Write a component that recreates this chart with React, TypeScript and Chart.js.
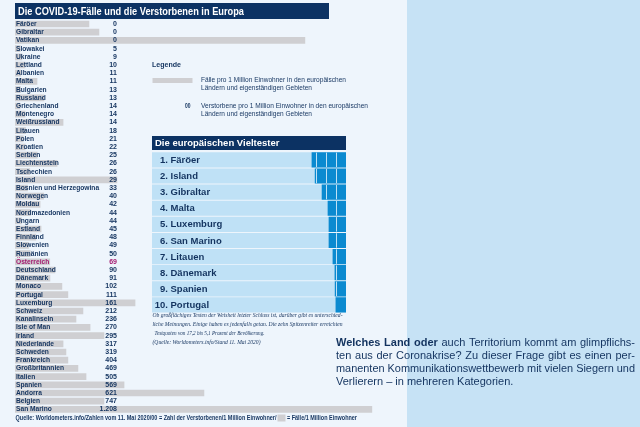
import React, { useEffect, useRef } from "react";
import { Chart, registerables } from "chart.js";

Chart.register(...registerables);

// ---------- DATA ----------
const countries = [
  "Färöer", "Gibraltar", "Vatikan", "Slowakei", "Ukraine", "Lettland", "Albanien", "Malta",
  "Bulgarien", "Russland", "Griechenland", "Montenegro", "Weißrussland", "Litauen", "Polen",
  "Kroatien", "Serbien", "Liechtenstein", "Tschechien", "Island", "Bosnien und Herzegowina",
  "Norwegen", "Moldau", "Nordmazedonien", "Ungarn", "Estland", "Finnland", "Slowenien",
  "Rumänien", "Österreich", "Deutschland", "Dänemark", "Monaco", "Portugal", "Luxemburg",
  "Schweiz", "Kanalinseln", "Isle of Man", "Irland", "Niederlande", "Schweden", "Frankreich",
  "Großbritannien", "Italien", "Spanien", "Andorra", "Belgien", "San Marino",
];

// cases per 1 million inhabitants (grey bars)
const casesPerMillion = [
  3830, 4350, 15020, 270, 360, 520, 300, 1140,
  280, 1500, 260, 520, 2490, 550, 420,
  530, 1150, 2180, 765, 5280, 650,
  1480, 1300, 800, 340, 1350, 1080, 700,
  790, 1800, 2070, 1810, 2430, 2740, 6220,
  3520, 3160, 3890, 4610, 2490, 2640, 2740,
  3260, 3680, 5650, 9790, 4610, 18490,
];

// deaths per 1 million inhabitants (numbers)
const deathsPerMillion = [
  0, 0, 0, 5, 9, 10, 11, 11,
  13, 13, 14, 14, 14, 18, 21,
  22, 25, 26, 26, 29, 33,
  40, 42, 44, 44, 45, 48, 49,
  50, 69, 90, 91, 102, 111, 161,
  212, 236, 270, 295, 317, 319, 404,
  469, 505, 569, 621, 747, 1208,
];

const highlightCountry = "Österreich";

// "Die europäischen Vieltester" – tests in % of population
const testers = [
  "Färöer", "Island", "Gibraltar", "Malta", "Luxemburg",
  "San Marino", "Litauen", "Dänemark", "Spanien", "Portugal",
];
const testRates = [17.2, 15.6, 12.1, 9.1, 8.6, 8.6, 6.6, 5.6, 5.5, 5.1];

const casesAxisMax = 20000;
const testAxisMax = 98;

// ---------- STYLE ----------
const BG = "#eef5fc";
const PANEL = "#c6e2f5";
const NAVY = "#0c3263";
const TEXT = "#13335f";
const GREY = "#cfcfd2";
const MAGENTA = "#a3196f";
const LIGHTBLUE = "#bfe1f6";
const DARKBLUE = "#0b8ad0";
const FONT = '"Liberation Sans", Arial, sans-serif';
const SERIF = '"Liberation Serif", "DejaVu Serif", serif';

function fmt(n: number): string {
  if (n >= 1000) return Math.floor(n / 1000) + "." + String(n % 1000).padStart(3, "0");
  return String(n);
}

function fitText(ctx: CanvasRenderingContext2D, text: string, x: number, y: number, w: number, font: string, color: string, align: "left" | "right" = "left") {
  ctx.save();
  ctx.font = font;
  ctx.fillStyle = color;
  ctx.textBaseline = "middle";
  ctx.textAlign = "left";
  const m = ctx.measureText(text).width;
  const s = w / m;
  const x0 = align === "right" ? x - w : x;
  ctx.translate(x0, y);
  ctx.scale(s, 1);
  ctx.fillText(text, 0, 0);
  ctx.restore();
}

type Word = { t: string; b: boolean };

function drawParagraphLine(ctx: CanvasRenderingContext2D, words: Word[], x: number, y: number, width: number, justify: boolean, size: number) {
  ctx.save();
  ctx.fillStyle = TEXT;
  ctx.textBaseline = "middle";
  ctx.textAlign = "left";
  const widths = words.map((w) => {
    ctx.font = `${w.b ? "bold " : ""}${size}px ${FONT}`;
    return ctx.measureText(w.t).width;
  });
  ctx.font = `${size}px ${FONT}`;
  const space = ctx.measureText(" ").width;
  const total = widths.reduce((a, b) => a + b, 0);
  let gap = space;
  let scale = 1;
  const natural = total + space * (words.length - 1);
  if (justify) {
    if (natural > width) {
      scale = width / natural;
    } else {
      gap = (width - total) / (words.length - 1);
    }
  }
  ctx.translate(x, y);
  ctx.scale(scale, 1);
  let cx = 0;
  words.forEach((w, i) => {
    ctx.font = `${w.b ? "bold " : ""}${size}px ${FONT}`;
    ctx.fillText(w.t, cx, 0);
    cx += widths[i] + gap;
  });
  ctx.restore();
}

function wordsOf(s: string, b = false): Word[] {
  return s.split(" ").filter((x) => x.length).map((t) => ({ t, b }));
}

const paragraph: { words: Word[]; justify: boolean }[] = [
  { words: [...wordsOf("Welches Land oder", true), ...wordsOf("auch Territorium kommt am glimpflichs-")], justify: true },
  { words: wordsOf("ten aus der Coronakrise? Zu dieser Frage gibt es einen per-"), justify: true },
  { words: wordsOf("manenten Kommunikationswettbewerb mit vielen Siegern und"), justify: true },
  { words: wordsOf("Verlierern – in mehreren Kategorien."), justify: false },
];

export default function App() {
  const mainRef = useRef<HTMLCanvasElement>(null);
  const testRef = useRef<HTMLCanvasElement>(null);

  useEffect(() => {
    document.body.style.margin = "0";
    if (!mainRef.current || !testRef.current) return;

    const bgPlugin = {
      id: "bgPlugin",
      beforeDraw(chart: any) {
        const ctx = chart.ctx as CanvasRenderingContext2D;
        ctx.save();
        ctx.fillStyle = BG;
        ctx.fillRect(0, 0, 640, 427);
        ctx.fillStyle = PANEL;
        ctx.fillRect(407, 0, 233, 427);
        ctx.restore();
      },
      afterDatasetsDraw(chart: any) {
        const ctx = chart.ctx as CanvasRenderingContext2D;
        const yScale = chart.scales.y;
        const left = chart.chartArea.left;
        ctx.save();
        ctx.textBaseline = "middle";
        countries.forEach((c, i) => {
          const y = yScale.getPixelForValue(i);
          const col = c === highlightCountry ? MAGENTA : TEXT;
          ctx.fillStyle = col;
          ctx.font = `bold 7px ${FONT}`;
          ctx.save();
          ctx.translate(left + 1, y);
          ctx.scale(0.95, 1);
          ctx.textAlign = "left";
          ctx.fillText(c, 0, 0);
          ctx.restore();
          ctx.textAlign = "right";
          ctx.fillText(fmt(deathsPerMillion[i]), 117, y);
        });
        ctx.restore();
      },
      afterDraw(chart: any) {
        const ctx = chart.ctx as CanvasRenderingContext2D;
        // title bar
        ctx.save();
        ctx.fillStyle = NAVY;
        ctx.fillRect(15, 3, 314, 16);
        ctx.restore();
        fitText(ctx, "Die COVID-19-Fälle und die Verstorbenen in Europa", 18, 11.5, 226, `bold 11px ${FONT}`, "#ffffff");

        // legend
        fitText(ctx, "Legende", 152, 65.5, 29, `bold 6.5px ${FONT}`, TEXT);
        ctx.save();
        ctx.fillStyle = GREY;
        ctx.fillRect(152.5, 78, 40, 5);
        ctx.restore();
        fitText(ctx, "Fälle pro 1 Million Einwohner in den europäischen", 201, 80.5, 145, `6.5px ${FONT}`, TEXT);
        fitText(ctx, "Ländern und eigenständigen Gebieten", 201, 88.5, 111, `6.5px ${FONT}`, TEXT);
        fitText(ctx, "00", 185, 106.5, 5.5, `bold 6.5px ${FONT}`, TEXT);
        fitText(ctx, "Verstorbene pro 1 Million Einwohner in den europäischen", 201, 106.5, 167, `6.5px ${FONT}`, TEXT);
        fitText(ctx, "Ländern und eigenständigen Gebieten", 201, 114.5, 111, `6.5px ${FONT}`, TEXT);

        // source line
        fitText(ctx, "Quelle: Worldometers.info/Zahlen vom 11. Mai 2020/00 = Zahl der Verstorbenen/1 Million Einwohner/", 15.5, 418, 261, `bold 7px ${FONT}`, TEXT);
        ctx.save();
        ctx.fillStyle = GREY;
        ctx.fillRect(277.5, 414.5, 8, 7);
        ctx.restore();
        fitText(ctx, "= Fälle/1 Million Einwohner", 287, 418, 70, `bold 7px ${FONT}`, TEXT);

        // paragraph
        const ys = [343, 356, 369, 382];
        paragraph.forEach((line, i) => {
          drawParagraphLine(ctx, line.words, 336, ys[i], 299, line.justify, 11);
        });
      },
    };

    const mainChart = new Chart(mainRef.current, {
      type: "bar",
      data: {
        labels: countries,
        datasets: [
          {
            data: casesPerMillion,
            backgroundColor: GREY,
            borderWidth: 0,
            barThickness: 6,
          },
        ],
      },
      options: {
        indexAxis: "y",
        responsive: false,
        animation: false,
        devicePixelRatio: 1,
        layout: { padding: { left: 15, right: 239, top: 19.9, bottom: 13.5 } },
        scales: {
          x: { display: false, min: 0, max: casesAxisMax },
          y: { display: false },
        },
        plugins: { legend: { display: false }, tooltip: { enabled: false } },
        events: [],
      },
      plugins: [bgPlugin],
    } as any);

    const testPlugin = {
      id: "testPlugin",
      afterDatasetsDraw(chart: any) {
        const ctx = chart.ctx as CanvasRenderingContext2D;
        const xScale = chart.scales.x;
        const yScale = chart.scales.y;
        const area = chart.chartArea;
        // grid lines inside dark bars
        const meta = chart.getDatasetMeta(0);
        ctx.save();
        ctx.strokeStyle = LIGHTBLUE;
        ctx.lineWidth = 1;
        meta.data.forEach((bar: any) => {
          const p = bar.getProps(["x", "y", "base", "height"], true);
          const x1 = Math.min(p.x, p.base);
          const x2 = Math.max(p.x, p.base);
          for (let v = 5; v < testAxisMax; v += 5) {
            const gx = Math.round(xScale.getPixelForValue(v)) + 0.5;
            if (gx > x1 + 1 && gx < x2) {
              ctx.beginPath();
              ctx.moveTo(gx, p.y - p.height / 2);
              ctx.lineTo(gx, p.y + p.height / 2);
              ctx.stroke();
            }
          }
        });
        ctx.restore();

        // labels
        ctx.save();
        ctx.fillStyle = TEXT;
        ctx.textBaseline = "middle";
        ctx.font = `bold 9.5px ${FONT}`;
        const numEnd = 168;
        testers.forEach((t, i) => {
          const y = yScale.getPixelForValue(i) + 0.5;
          ctx.textAlign = "right";
          ctx.fillText(`${i + 1}.`, numEnd, y);
          ctx.textAlign = "left";
          ctx.fillText(t, numEnd + 2.5, y);
        });
        ctx.restore();

        // header
        ctx.save();
        ctx.fillStyle = NAVY;
        ctx.fillRect(area.left, 136, area.right - area.left, 14);
        ctx.fillStyle = "#ffffff";
        ctx.textBaseline = "middle";
        ctx.textAlign = "left";
        ctx.font = `bold 9.5px ${FONT}`;
        ctx.fillText("Die europäischen Vieltester", area.left + 3, 143.5);
        ctx.restore();

        // note
        const f = `italic 6px ${SERIF}`;
        fitText(ctx, "Ob großflächiges Testen der Weisheit letzter Schluss ist, darüber gibt es unterschied-", 152.5, 315, 190, f, TEXT);
        fitText(ctx, "liche Meinungen. Einige haben es jedenfalls getan. Die zehn Spitzenreiter erreichten", 152.5, 324, 190, f, TEXT);
        fitText(ctx, "Testquoten von 17,2 bis 5,1 Prozent der Bevölkerung.", 154.5, 333, 110, f, TEXT);
        fitText(ctx, "(Quelle: Worldometers.info/Stand 11. Mai 2020)", 152.5, 342, 108, f, TEXT);
      },
    };

    const testChart = new Chart(testRef.current, {
      type: "bar",
      data: {
        labels: testers,
        datasets: [
          {
            data: testRates,
            backgroundColor: DARKBLUE,
            borderWidth: 0,
            barThickness: 14.5,
            grouped: false,
          },
          {
            data: testers.map(() => testAxisMax),
            backgroundColor: LIGHTBLUE,
            borderWidth: 0,
            barThickness: 14.5,
            grouped: false,
          },
        ],
      },
      options: {
        indexAxis: "y",
        responsive: false,
        animation: false,
        devicePixelRatio: 1,
        layout: { padding: { left: 152, right: 294, top: 151.8, bottom: 114 } },
        scales: {
          x: { display: false, min: 0, max: testAxisMax, reverse: true },
          y: { display: false },
        },
        plugins: { legend: { display: false }, tooltip: { enabled: false } },
        events: [],
      },
      plugins: [testPlugin],
    } as any);

    return () => {
      mainChart.destroy();
      testChart.destroy();
    };
  }, []);

  return (
    <div style={{ position: "relative", width: 640, height: 427, overflow: "hidden" }}>
      <canvas ref={mainRef} width={640} height={427} style={{ position: "absolute", left: 0, top: 0, width: 640, height: 427 }} />
      <canvas ref={testRef} width={640} height={427} style={{ position: "absolute", left: 0, top: 0, width: 640, height: 427, pointerEvents: "none" }} />
    </div>
  );
}
